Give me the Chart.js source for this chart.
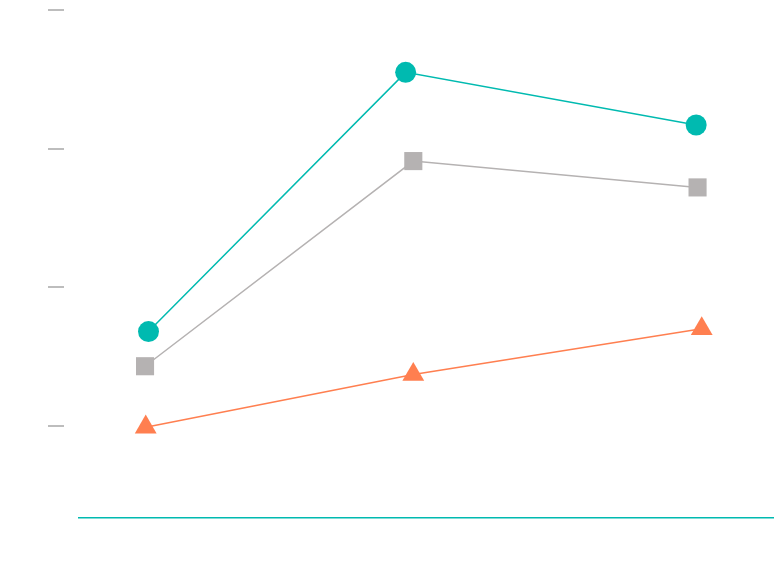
<!DOCTYPE html>
<html>
<head>
<meta charset="utf-8">
<script src="https://cdn.jsdelivr.net/npm/chart.js@4/dist/chart.umd.min.js"></script>
<style>
  html, body { margin: 0; padding: 0; background: #fff; }
  #wrap { width: 774px; height: 580px; }
</style>
</head>
<body>
<div id="wrap"><canvas id="chart"></canvas></div>
<script>
  // valores (ejes sin etiquetas)
  const tickValues = [1, 2, 3, 4];

  const circleX = [1.00, 4.70, 8.88];
  const circleY = [1.68, 3.55, 3.17];

  const squareX = [0.95, 4.81, 8.90];
  const squareY = [1.43, 2.91, 2.72];

  const triangleX = [0.96, 4.81, 8.96];
  const triangleY = [0.99, 1.37, 1.70];

  function puntos(xs, ys) {
    return xs.map((x, i) => ({ x: x, y: ys[i] }));
  }

  const ctx = document.getElementById('chart').getContext('2d');
  new Chart(ctx, {
    type: 'line',
    data: {
      datasets: [
        {
          data: puntos(circleX, circleY),
          borderColor: '#00bab0',
          backgroundColor: '#00bab0',
          borderWidth: 1.5,
          pointStyle: 'circle',
          pointRadius: 10.5,
          pointBorderWidth: 0
        },
        {
          data: puntos(squareX, squareY),
          borderColor: '#b5b2b2',
          backgroundColor: '#b5b2b2',
          borderWidth: 1.5,
          pointStyle: 'rect',
          pointRadius: 12.8,
          pointBorderWidth: 0
        },
        {
          data: puntos(triangleX, triangleY),
          borderColor: '#ff7f50',
          backgroundColor: '#ff7f50',
          borderWidth: 1.5,
          pointStyle: 'triangle',
          pointRadius: 12.6,
          pointBorderWidth: 0
        }
      ]
    },
    options: {
      responsive: true,
      maintainAspectRatio: false,
      animation: false,
      events: [],
      layout: { autoPadding: false, padding: { left: 48, top: 10, right: 0, bottom: 54 } },
      plugins: { legend: { display: false }, tooltip: { enabled: false } },
      scales: {
        x: {
          type: 'linear',
          min: 0,
          max: 10,
          ticks: { display: false },
          grid: { display: false },
          border: { display: true, color: '#00bab0', width: 1.5 }
        },
        y: {
          type: 'linear',
          position: 'left',
          weight: 1,
          min: 0.335,
          max: 4,
          afterBuildTicks: function(scale) {
            scale.ticks = tickValues.map(v => ({ value: v }));
          },
          ticks: { display: false },
          grid: { drawOnChartArea: false, drawTicks: true, tickLength: 16, color: '#bdbdbd', lineWidth: 2 },
          border: { display: false }
        },
        ySpacer: {
          type: 'linear',
          position: 'left',
          weight: 0,
          ticks: { display: false },
          grid: { display: false },
          border: { display: false },
          afterFit: function(scale) { scale.width = 15; }
        }
      }
    }
  });
</script>
</body>
</html>
